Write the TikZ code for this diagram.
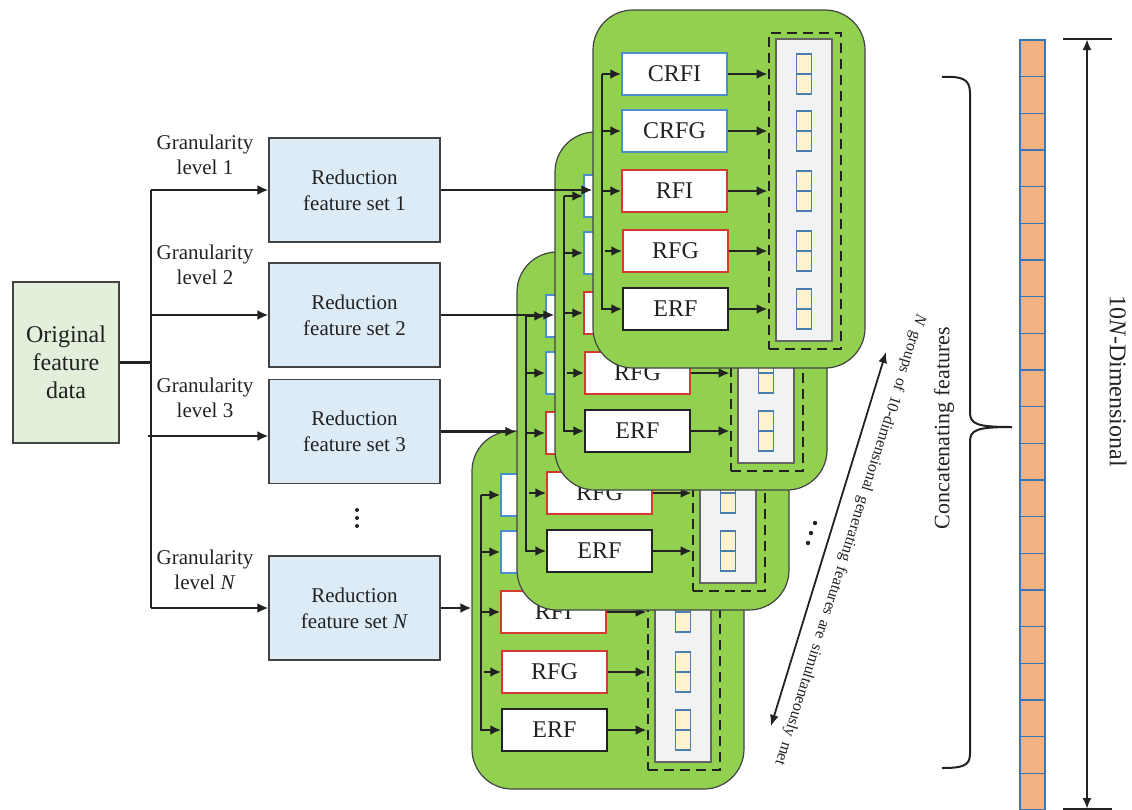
\documentclass[tikz,border=0pt]{standalone}
\usepackage{fontspec}
\setmainfont{Liberation Serif}
\usetikzlibrary{arrows.meta}
\definecolor{cardgreen}{HTML}{92D050}
\definecolor{redfill}{HTML}{DDEBF7}
\definecolor{origfill}{HTML}{E2EFDA}
\definecolor{barfill}{HTML}{F4B183}
\definecolor{barline}{HTML}{3A76B4}
\definecolor{sqfill}{HTML}{FFF2CC}
\definecolor{sqline}{HTML}{4A7EAE}
\definecolor{grayfill}{HTML}{F1F2F4}
\definecolor{bblue}{HTML}{4A90D0}
\definecolor{bred}{HTML}{D23A32}
\definecolor{ink}{HTML}{222222}
\tikzset{
  arr/.style={draw=ink, line width=1.2pt, -{Latex[length=5.5pt,width=5pt]}},
  plainline/.style={draw=ink, line width=1.2pt},
  trunkline/.style={draw=ink, line width=1.4pt},
  origbox/.style={draw=ink!85, fill=origfill, line width=0.6pt, minimum width=53pt, minimum height=80.5pt, inner sep=0pt, align=center, text=ink, font=\fontsize{12}{14}\selectfont},
  redbox/.style={draw=ink!85, fill=redfill, line width=0.6pt, minimum width=85.5pt, minimum height=52pt, inner sep=0pt, align=center, text=ink, font=\fontsize{10.5}{13}\selectfont},
  glabel/.style={align=center, text=ink, inner sep=0pt, font=\fontsize{10.5}{12.5}\selectfont},
  fbox/.style={fill=white, line width=0.75pt, minimum width=52.5pt, minimum height=21pt, inner sep=0pt, text=ink, font=\fontsize{12}{14}\selectfont},
  cardbox/.style={fill=cardgreen, draw=ink!85, line width=0.6pt, rounded corners=20pt, minimum width=136pt, minimum height=179pt, inner sep=0pt},
  dashbox/.style={draw=ink, line width=1.4pt, dash pattern=on 5pt off 3pt, minimum width=36pt, minimum height=158pt, inner sep=0pt},
  graybox/.style={draw=ink!70, fill=grayfill, line width=0.6pt, minimum width=28pt, minimum height=151pt, inner sep=0pt},
  ysq/.style={draw=sqline, fill=sqfill, line width=0.6pt, minimum width=7.5pt, minimum height=10pt, inner sep=0pt},
  barsq/.style={draw=barline, fill=barfill, line width=0.6pt},
  dimarrow/.style={draw=ink, line width=1.1pt, {Latex[length=5.5pt,width=4.5pt]}-{Latex[length=5.5pt,width=4.5pt]}},
}
\newcommand\fcard[3]{%
\begin{scope}[shift={(#2,#3)}]
  \node[cardbox] (#1card) at (136,179) {};
  \node[graybox] (#1gray) at (211,180) {};
  \foreach \yy in {64,121,181,241,299}{
    \node[ysq] (#1sqa\yy) at (211,\yy-10) {};
    \node[ysq] (#1sqb\yy) at (211,\yy+10) {};
  }
  \node[dashbox] (#1dash) at (212,181) {};
  \node[fbox,draw=bblue] (#1crfi) at (81.5,64) {CRFI};
  \node[fbox,draw=bblue] (#1crfg) at (81.5,121) {CRFG};
  \node[fbox,draw=bred] (#1rfi) at (81.5,181) {RFI};
  \node[fbox,draw=bred] (#1rfg) at (82.5,241) {RFG};
  \node[fbox,draw=ink] (#1erf) at (82.5,299) {ERF};
  \coordinate (#1top) at (9,64);
  \coordinate (#1bot) at (9,299);
  \coordinate (#1rs) at (12,241);
  \draw[arr] (#1top) -- (#1crfi);
  \draw[arr] (#1top) -- (#1bot) -- (#1erf);
  \draw[arr] (#1top |- #1crfg) -- (#1crfg);
  \draw[arr] (#1top |- #1rfi) -- (#1rfi);
  \draw[arr] (#1rs) -- (#1rfg);
  \foreach \bx in {crfi,crfg,rfi,rfg,erf}{
    \draw[arr] (#1\bx.east) -- (#1\bx.east -| #1dash.west);
  }
\end{scope}}
\begin{document}
\begin{tikzpicture}[x=0.5pt,y=-0.5pt]
\useasboundingbox (0,0) rectangle (1132,810);

% left part
\node[origbox] (orig) at (66,362.5) {Original\\feature\\data};
\node[redbox] (red1) at (354.5,190) {Reduction\\feature set 1};
\node[redbox] (red2) at (354.5,315) {Reduction\\feature set 2};
\node[redbox] (red3) at (354.5,431.5) {Reduction\\feature set 3};
\node[redbox] (redN) at (354.5,608) {Reduction\\feature set \textit{N}};
\node[glabel] (gl1) at (205,154.5) {Granularity\\level 1};
\node[glabel] (gl2) at (205,265) {Granularity\\level 2};
\node[glabel] (gl3) at (205,398) {Granularity\\level 3};
\node[glabel] (glN) at (205,569.5) {Granularity\\level \textit{N}};
\coordinate (gt1) at (151,190);
\coordinate (gt2) at (151,315);
\coordinate (gt3) at (148,436);
\coordinate (gtN) at (151,608);
\draw[plainline] (orig.east) -- (orig.east -| gt1);
\draw[trunkline] (gt1) -- (gtN);
\draw[arr] (gt1) -- (red1);
\draw[arr] (gt2) -- (red2);
\draw[arr] (gt3) -- (gt3 -| red3.west);
\draw[arr] (gtN) -- (redN);
\foreach \k in {510,518,526}{\fill[ink] (357,\k) circle (1pt);}

% cards
\fcard{c4}{472}{431}
\fcard{c3}{517}{252}
\fcard{c2}{555}{132}
\fcard{c1}{593}{10}

\draw[arr] (red1.east) -- (red1.east -| c1card.west);
\draw[arr] (red2.east) -- (red2.east -| c2card.west);
\draw[arr] (red3.east) -- (red3.east -| c3card.west);
\draw[arr] (redN.east) -- (redN.east -| c4card.west);

% dots between cards
\foreach \dx/\dy in {815/523, 811/533, 808/543}{\fill[ink] (\dx,\dy) circle (1.1pt);}

% double arrow and rotated text
\coordinate (na) at (886,352);
\coordinate (nb) at (771,726);
\draw[dimarrow, line width=0.9pt] (na) -- (nb);
\node[text=ink, inner sep=0pt, rotate=-107.5, font=\fontsize{8}{9}\selectfont] (ntext) at (850,540)
  {\makebox[236pt][s]{\textit{N} groups of 10-dimensional generating features are simultaneously met}};

% brace
\coordinate (bt) at (942,77);
\coordinate (bm) at (1012,427);
\coordinate (bb) at (942,768);
\draw[draw=ink, line width=1pt] (bt) .. controls (962,76) and (970,79) .. (970,93) -- (970,412)
   .. controls (970,424) and (976,427) .. (bm)
   .. controls (976,427) and (970,430) .. (970,442) -- (970,754)
   .. controls (970,766) and (962,768) .. (bb);
\node[text=ink, inner sep=0pt, rotate=90, font=\fontsize{11}{13}\selectfont] (concat) at (944,428) {Concatenating features};

% bar of features
\foreach \i in {0,...,20}{
  \draw[barsq] (1020,{40+\i*36.667}) rectangle (1045,{40+(\i+1)*36.667});
}
% dimension arrow
\coordinate (dt) at (1087,39);
\coordinate (db) at (1087,809);
\draw[draw=ink, line width=1.3pt] (1063,39) -- (1112,39);
\draw[draw=ink, line width=1.3pt] (1063,809) -- (1112,809);
\draw[dimarrow] (dt) -- (db);
\node[text=ink, inner sep=0pt, rotate=-90, font=\fontsize{12}{14}\selectfont] (dimtext) at (1118,381) {10\textit{N}-Dimensional};
\end{tikzpicture}
\end{document}
